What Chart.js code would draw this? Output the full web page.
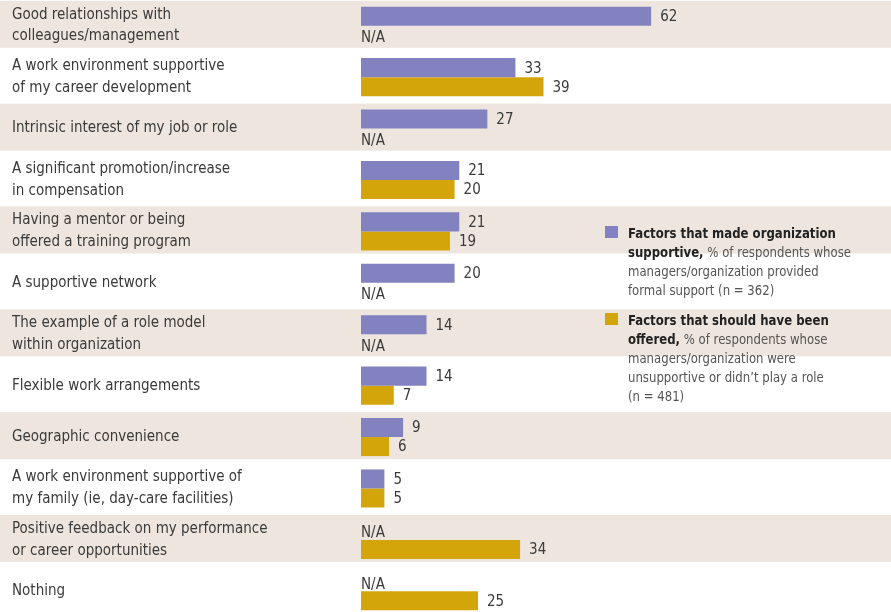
<!DOCTYPE html>
<html>
<head>
<meta charset="utf-8">
<script src="https://cdn.jsdelivr.net/npm/chart.js@4"></script>
<style>
  html, body { margin: 0; padding: 0; background: #ffffff; overflow: hidden; }
  #wrap { position: relative; width: 891px; height: 612px; overflow: hidden; }
  #chart { position: absolute; left: 0; top: 0; }
  .leg { position: absolute; left: 605px; font-family: 'Liberation Sans Narrow', 'DejaVu Sans Condensed', sans-serif; font-size: 14px; line-height: 19px; color: #555; white-space: nowrap; }
  .leg .sq { position: absolute; left: 0; top: 2.5px; width: 13px; height: 12px; }
  .leg .tx { margin-left: 23px; transform: scaleX(0.93); transform-origin: 0 0; }
  .leg b { color: #222; }
</style>
</head>
<body>
<div id="wrap">
  <canvas id="chart" width="891" height="617"></canvas>
  <div class="leg" style="top:223.5px">
    <div class="sq" style="background:#8182bf"></div>
    <div class="tx"><b>Factors that made organization</b><br><b>supportive,</b> % of respondents whose<br>managers/organization provided<br>formal support (n = 362)</div>
  </div>
  <div class="leg" style="top:310.5px">
    <div class="sq" style="background:#d4a50a"></div>
    <div class="tx"><b>Factors that should have been</b><br><b>offered,</b> % of respondents whose<br>managers/organization were<br>unsupportive or didn’t play a role<br>(n = 481)</div>
  </div>
</div>
<script>
const categories = [
  ["Good relationships with", "colleagues/management"],
  ["A work environment supportive", "of my career development"],
  "Intrinsic interest of my job or role",
  ["A significant promotion/increase", "in compensation"],
  ["Having a mentor or being", "offered a training program"],
  "A supportive network",
  ["The example of a role model", "within organization"],
  "Flexible work arrangements",
  "Geographic convenience",
  ["A work environment supportive of", "my family (ie, day-care facilities)"],
  ["Positive feedback on my performance", "or career opportunities"],
  "Nothing"
];
const madeSupportive = [62, 33, 27, 21, 21, 20, 14, 14, 9, 5, null, null];
const shouldHaveOffered = [null, 39, null, 20, 19, null, null, 7, 6, 5, 34, 25];
const seriesNames = ["Factors that made organization supportive", "Factors that should have been offered"];

const FONT = "'Liberation Sans Narrow', 'DejaVu Sans Condensed', sans-serif";
const TEXT = '#3a3a3a';

const bandPlugin = {
  id: 'bands',
  beforeDraw(chart) {
    const ctx = chart.ctx;
    const y = chart.scales.y;
    const step = y.getPixelForValue(1) - y.getPixelForValue(0);
    ctx.save();
    ctx.fillStyle = '#eee6de';
    for (let i = 0; i < categories.length; i += 2) {
      const c = y.getPixelForValue(i);
      ctx.fillRect(0, c - step * 0.485, chart.width, step * 0.915);
    }
    ctx.restore();
  }
};

const valuePlugin = {
  id: 'values',
  afterDatasetsDraw(chart) {
    const ctx = chart.ctx;
    ctx.save();
    ctx.font = '15px ' + FONT;
    ctx.fillStyle = TEXT;
    ctx.textBaseline = 'middle';
    ctx.textAlign = 'left';
    chart.data.datasets.forEach((ds, di) => {
      const meta = chart.getDatasetMeta(di);
      meta.data.forEach((el, i) => {
        const v = ds.data[i];
        if (v === null || v === undefined) {
          ctx.fillText('N/A', chart.chartArea.left, el.y + 3);
        } else {
          ctx.fillText(String(v), el.x + 9, el.y + 1);
        }
      });
    });
    ctx.restore();
  }
};

new Chart(document.getElementById('chart'), {
  type: 'bar',
  data: {
    labels: categories,
    datasets: [
      { label: seriesNames[0], data: madeSupportive, backgroundColor: '#8182bf', categoryPercentage: 0.74, barPercentage: 1.0 },
      { label: seriesNames[1], data: shouldHaveOffered, backgroundColor: '#d4a50a', categoryPercentage: 0.74, barPercentage: 1.0 }
    ]
  },
  options: {
    indexAxis: 'y',
    responsive: false,
    animation: false,
    layout: { padding: { left: 12, right: 62, top: 0, bottom: 0 } },
    plugins: { legend: { display: false }, tooltip: { enabled: false } },
    scales: {
      x: { display: false, min: 0, max: 100 },
      y: {
        grid: { display: false, drawTicks: false },
        border: { display: false },
        ticks: {
          autoSkip: false,
          crossAlign: 'far',
          padding: 0,
          color: TEXT,
          font: { family: FONT, size: 15, lineHeight: 1.45 }
        },
        afterFit(scale) {
          scale.width = 349;
          scale.paddingTop = 0;
          scale.paddingBottom = 0;
        }
      }
    }
  },
  plugins: [bandPlugin, valuePlugin]
});
</script>
</body>
</html>
